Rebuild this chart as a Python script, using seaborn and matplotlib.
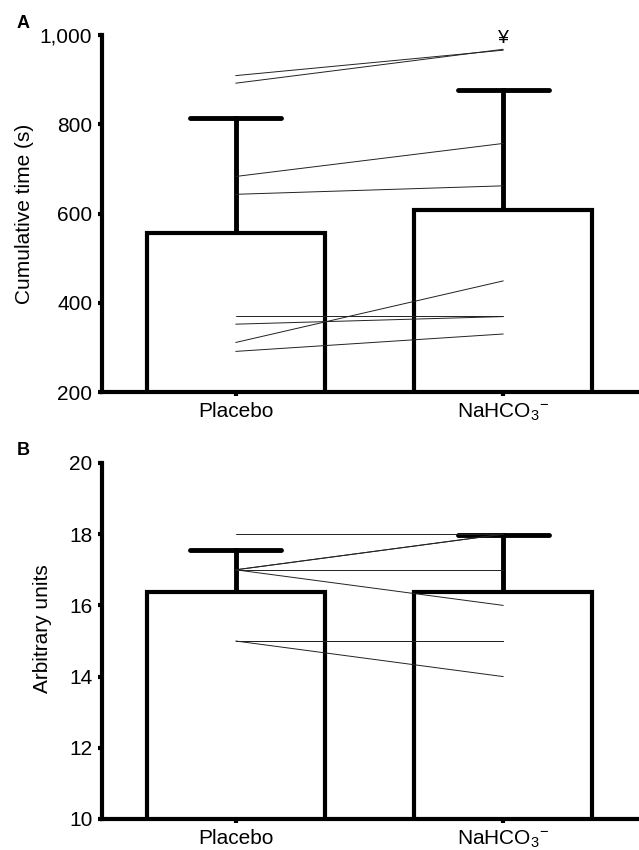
import matplotlib as mpl
import matplotlib.pyplot as plt
import numpy as np
import pandas as pd
import seaborn as sns

# Conditions and tick labels
CONDITIONS = ["Placebo", "NaHCO3"]
XTICK_LABELS = ["Placebo", "NaHCO$_3$$^{-}$"]

# Panel A: cumulative time (s), paired per subject
PLACEBO_A = [909, 892, 683, 643, 370, 352, 311, 291]
NAHCO3_A = [966, 968, 757, 662, 370, 369, 449, 330]
YTICKS_A = [200, 400, 600, 800, 1000]

# Panel B: arbitrary units, paired per subject
PLACEBO_B = [18, 17, 17, 17, 17, 15, 15, 15]
NAHCO3_B = [18, 18, 18, 17, 16, 15, 15, 14]
YTICKS_B = [10, 12, 14, 16, 18, 20]

W, H = 639, 850


def long_table(placebo, nahco3):
    n = len(placebo)
    return pd.DataFrame(
        {
            "subject": np.tile(np.arange(n), 2),
            "condition": np.repeat(CONDITIONS, n),
            "value": np.concatenate([placebo, nahco3]),
        }
    )


def draw_panel(ax, placebo, nahco3, yticks, ylabel, label_xy):
    df = long_table(placebo, nahco3)

    # mean +/- SD bars, bar drawn over the lower half of the error bar
    sns.barplot(
        data=df,
        x="condition",
        y="value",
        order=CONDITIONS,
        errorbar="sd",
        width=0.665,
        capsize=0.34,
        color="white",
        saturation=1,
        edgecolor="black",
        linewidth=3,
        err_kws={"color": "black", "linewidth": 3.5, "solid_capstyle": "round"},
        ax=ax,
    )
    for p in ax.patches:
        p.set_zorder(3)

    # individual subjects
    sns.lineplot(
        data=df,
        x="condition",
        y="value",
        units="subject",
        estimator=None,
        color="#222222",
        linewidth=0.7,
        legend=False,
        zorder=4,
        ax=ax,
    )

    ax.set_xlim(-0.5, 1.5)
    ax.set_ylim(yticks[0], yticks[-1])
    ax.set_yticks(yticks)
    ax.yaxis.set_major_formatter(mpl.ticker.StrMethodFormatter("{x:,.0f}"))
    ax.set_xticks(range(len(CONDITIONS)))
    ax.set_xticklabels(XTICK_LABELS)
    ax.set_xlabel("")
    ax.set_ylabel(ylabel, fontsize=15)
    ax.yaxis.set_label_coords(*label_xy)

    sns.despine(ax=ax)
    for side in ["left", "bottom"]:
        ax.spines[side].set_linewidth(3)
        ax.spines[side].set_zorder(5)
    ax.tick_params(axis="y", length=3, width=3, labelsize=15, pad=4)
    ax.tick_params(axis="x", length=3, width=3, labelsize=15, pad=4)


sns.set_style("ticks")
plt.rcParams["font.family"] = ["Liberation Sans", "DejaVu Sans"]
plt.rcParams["mathtext.default"] = "regular"
for key in ["axes.edgecolor", "axes.labelcolor", "text.color", "xtick.color", "ytick.color"]:
    plt.rcParams[key] = "black"

fig = plt.figure(figsize=(W / 100, H / 100), dpi=100)
ax_a = fig.add_axes([102 / W, 1 - 392 / H, 535 / W, 357 / H])
ax_b = fig.add_axes([102 / W, 1 - 819 / H, 535 / W, 356 / H])

draw_panel(ax_a, PLACEBO_A, NAHCO3_A, YTICKS_A, "Cumulative time (s)", (-0.127, 0.5))
draw_panel(ax_b, PLACEBO_B, NAHCO3_B, YTICKS_B, "Arbitrary units", (-0.093, 0.535))

# significance mark above the highest NaHCO3 value
ax_a.annotate(
    "¥",
    xy=(CONDITIONS.index("NaHCO3"), max(NAHCO3_A)),
    xytext=(0, 2),
    textcoords="offset points",
    ha="center",
    va="bottom",
    fontsize=14,
)

fig.text(17 / W, 1 - 28 / H, "A", fontsize=13, fontweight="bold", va="baseline")
fig.text(17 / W, 1 - 455 / H, "B", fontsize=13, fontweight="bold", va="baseline")

fig.savefig("out.png", dpi=100)
